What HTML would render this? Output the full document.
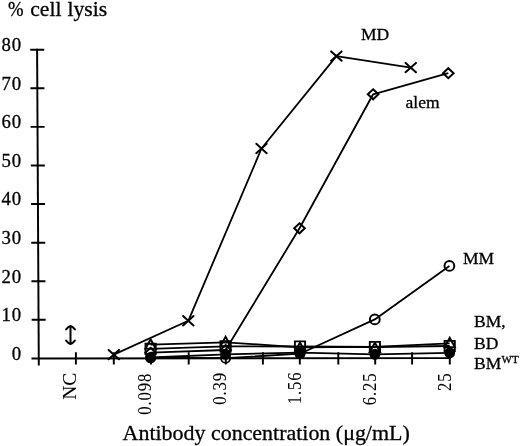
<!DOCTYPE html>
<html><head><meta charset="utf-8">
<style>
html,body{margin:0;padding:0;background:#fff;}
body{width:520px;height:446px;overflow:hidden;}
svg{display:block;will-change:transform;}
text{font-family:"Liberation Serif",serif;fill:#000;stroke:#000;stroke-width:0.3px;}
.rl text{stroke-width:0.05px;}
</style></head>
<body>
<svg width="520" height="446" viewBox="0 0 520 446">
<rect width="520" height="446" fill="#fff"/>
<text font-size="21.7" transform="translate(7.9 16) scale(0.86 1)">%</text><text y="16" font-size="21.7"><tspan x="30.2">cell</tspan><tspan x="67.4">lysis</tspan></text>
<g font-size="18.8" text-anchor="end" letter-spacing="1">
<text x="22.2" y="51.0">80</text>
<text x="22.2" y="89.6">70</text>
<text x="22.2" y="128.2">60</text>
<text x="22.2" y="166.8">50</text>
<text x="22.2" y="205.4">40</text>
<text x="22.2" y="244.0">30</text>
<text x="22.2" y="282.5">20</text>
<text x="22.2" y="321.1">10</text>
<text x="22.2" y="359.7">0</text>
</g>
<g stroke="#000" stroke-width="1.95" fill="none">
<path d="M37.1 48.7 L38.8 365.5"/>
<path d="M31.5 358.5 L451 358.1"/>
<path d="M30.21 49.70H44.21 M30.41 88.29H44.41 M30.62 126.88H44.62 M30.83 165.47H44.83 M31.03 204.06H45.03 M31.24 242.65H45.24 M31.45 281.24H45.45 M31.65 319.83H45.65"/>
<path d="M75.9 352.2V364.6 M113.8 352.2V364.6 M151 352.2V364.6 M188.7 352.2V364.6 M225.8 352.2V364.6 M262.9 352.2V364.6 M299.8 352.2V364.6 M338.3 352.2V364.6 M375.2 352.2V364.6 M412.1 352.2V364.6 M449.8 352.2V364.6"/>
</g>
<g stroke="#000" stroke-width="2" fill="none" stroke-linecap="round" stroke-linejoin="round">
<path d="M70.5 326.5V343.5"/>
<path d="M66.1 329.4Q68.3 326.6 70.5 326Q72.7 326.6 74.9 329.4"/>
<path d="M66.1 340.6Q68.3 343.4 70.5 344Q72.7 343.4 74.9 340.6"/>
</g>
<g stroke="#000" stroke-width="1.8" fill="none" stroke-linejoin="round">
<polyline points="113.80,354.60 188.30,320.80 261.50,148.50 336.40,56.10 410.75,67.60"/>
<polyline points="150.60,352.70 225.60,350.00 299.50,228.30 373.10,94.30 448.30,73.20"/>
<polyline points="150.60,357.80 225.60,358.20 300.00,353.70 374.80,319.40 449.40,265.90"/>
<polyline points="150.60,344.70 225.60,342.30 300.00,347.30 374.90,346.80 449.70,343.30"/>
<polyline points="150.60,348.90 225.60,346.40 300.00,346.50 374.90,347.00 449.70,346.00"/>
<polyline points="150.60,357.50 225.60,354.30 300.00,352.60 374.90,354.30 449.70,352.80"/>
</g>
<g stroke="#000" stroke-width="2" fill="none" stroke-linecap="round">
<path d="M108.60 349.90L119.00 359.30M119.00 349.90L108.60 359.30 M183.10 316.10L193.50 325.50M193.50 316.10L183.10 325.50 M256.30 143.80L266.70 153.20M266.70 143.80L256.30 153.20 M331.20 51.40L341.60 60.80M341.60 51.40L331.20 60.80 M405.55 62.90L415.95 72.30M415.95 62.90L405.55 72.30"/>
</g>
<g stroke="#000" stroke-width="2" fill="none">
<path d="M299.50 223.30L304.80 228.30L299.50 233.30L294.20 228.30Z M373.10 89.30L378.40 94.30L373.10 99.30L367.80 94.30Z M448.30 68.20L453.60 73.20L448.30 78.20L443.00 73.20Z"/>
<circle cx="374.8" cy="319.4" r="4.9"/>
<circle cx="449.4" cy="265.9" r="4.9"/>
</g>
<g stroke="#000" stroke-width="1.9" fill="none">
<circle cx="150.6" cy="357.5" r="4.5" fill="#000"/>
<circle cx="150.6" cy="357.8" r="4.6"/>
<path d="M150.60 347.70L155.90 352.70L150.60 357.70L145.30 352.70Z"/>
<path d="M145.50 343.80h10.20v10.20h-10.20Z"/>
<path d="M150.60 339.17L155.80 348.67L145.40 348.67Z"/>
<circle cx="225.6" cy="354.3" r="4.5" fill="#000"/>
<circle cx="225.6" cy="358.2" r="4.6"/>
<path d="M225.60 345.00L230.90 350.00L225.60 355.00L220.30 350.00Z"/>
<path d="M220.50 341.30h10.20v10.20h-10.20Z"/>
<path d="M225.60 336.77L230.80 346.27L220.40 346.27Z"/>
<circle cx="300" cy="352.6" r="4.5" fill="#000"/>
<circle cx="300" cy="353.7" r="4.6"/>
<path d="M294.90 341.40h10.20v10.20h-10.20Z"/>
<path d="M300.00 342.47L305.20 351.97L294.80 351.97Z"/>
<circle cx="374.9" cy="354.3" r="4.5" fill="#000"/>
<path d="M369.80 341.90h10.20v10.20h-10.20Z"/>
<path d="M374.90 342.67L380.10 352.17L369.70 352.17Z"/>
<circle cx="449.7" cy="352.8" r="4.5" fill="#000"/>
<path d="M444.60 340.90h10.20v10.20h-10.20Z"/>
<path d="M449.70 337.77L454.90 347.27L444.50 347.27Z"/>
</g>
<g font-size="17.5">
<text x="361" y="40.3">MD</text>
<text x="405.5" y="107.5">alem</text>
<text x="463" y="264.2">MM</text>
<text x="474" y="327">BM,</text>
<text x="474" y="348.7">BD</text>
<text x="474" y="369.4">BM</text>
<text x="501.6" y="363" font-size="11">WT</text>
</g>
<g class="rl" font-size="18.5" text-anchor="end" letter-spacing="1">
<text transform="translate(76.1 372.6) rotate(-90)" letter-spacing="0" font-size="19.6">NC</text>
<text transform="translate(151.0 372.9) rotate(-90) scale(0.9 1)">0.098</text>
<text transform="translate(226.2 372.1) rotate(-90) scale(0.9 1)">0.39</text>
<text transform="translate(301.3 371.6) rotate(-90) scale(0.9 1)">1.56</text>
<text transform="translate(376.2 372.5) rotate(-90) scale(0.9 1)">6.25</text>
<text transform="translate(450.6 372.5) rotate(-90) scale(0.9 1)">25</text>
</g>
<text x="122.6" y="440" font-size="21.95">Antibody concentration (μg/mL)</text>
</svg>
</body></html>
